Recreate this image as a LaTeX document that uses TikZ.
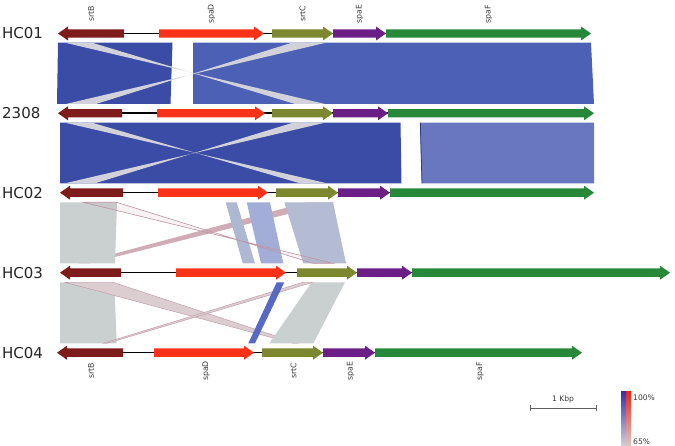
\documentclass[tikz,border=0pt]{standalone}
\usepackage{fontspec}
\setmainfont{DejaVu Sans}
\definecolor{cSrtB}{HTML}{7E1B1B}
\definecolor{cSpaD}{HTML}{FA3218}
\definecolor{cSrtC}{HTML}{7C872F}
\definecolor{cSpaE}{HTML}{6A1E86}
\definecolor{cSpaF}{HTML}{27883A}
\definecolor{bandA}{HTML}{3B4CA6}
\definecolor{bandB}{HTML}{4C61B5}
\definecolor{bandC}{HTML}{6877BF}
\definecolor{wedgec}{HTML}{D2D2DA}
\definecolor{greyblk}{HTML}{C9D0CF}
\definecolor{stripA}{HTML}{AEB8D3}
\definecolor{stripB}{HTML}{A3AED8}
\definecolor{stripC}{HTML}{B4BCD4}
\definecolor{pinkband}{HTML}{D0ADB6}
\definecolor{pinkline}{HTML}{BE95A2}
\definecolor{pinkfill}{HTML}{DCCDD1}
\definecolor{bluestrip}{HTML}{5869C4}
\definecolor{labelgrey}{HTML}{3A3A3A}
\newcommand\generight[4]{%
  \fill[#4] (#1,#3-4.2) -- (#2-10,#3-4.2) -- (#2-10,#3-7) -- (#2,#3) -- (#2-10,#3+7) -- (#2-10,#3+4.2) -- (#1,#3+4.2) -- cycle;}
\newcommand\geneleft[4]{%
  \fill[#4] (#2,#3-4.2) -- (#1+10,#3-4.2) -- (#1+10,#3-7) -- (#1,#3) -- (#1+10,#3+7) -- (#1+10,#3+4.2) -- (#2,#3+4.2) -- cycle;}
\begin{document}
\begin{tikzpicture}[x=1pt,y=-1pt,
  glabel/.style={rotate=90,font=\fontsize{7.8}{7.8}\selectfont,text=labelgrey,inner sep=0pt},
  rowlabel/.style={anchor=west,font=\fontsize{15}{15}\selectfont,text={black!85},inner sep=0pt},
  backbone/.style={line width=1.6pt,black},
  smalltext/.style={font=\fontsize{7.6}{7.6}\selectfont,text=labelgrey,inner sep=0pt}]
\useasboundingbox[fill=white] (0,0) rectangle (675,446);

% ---------- bands HC01-2308 ----------
\fill[bandA] (58,42.7) -- (172.5,42.7) -- (170.5,104) -- (57,104) -- cycle;
\fill[bandB] (193,42.7) -- (591,42.7) -- (594,104) -- (193,104) -- cycle;
\fill[wedgec] (65,42.7) -- (92,42.7) -- (295,104) -- (325,104) -- cycle;
\fill[wedgec] (292,42.7) -- (326,42.7) -- (66,104) -- (96,104) -- cycle;

% ---------- bands 2308-HC02 ----------
\fill[bandA] (60,122.7) -- (400.5,122.7) -- (401.5,183.3) -- (60,183.3) -- cycle;
\fill[bandC] (420,122.7) -- (594,122.7) -- (594,183.3) -- (421.7,183.3) -- cycle;
\draw[bandA!80!black,line width=0.8pt] (420.3,122.7) -- (422,183.3);
\fill[wedgec] (65,122.7) -- (92,122.7) -- (300,183.3) -- (327,183.3) -- cycle;
\fill[wedgec] (293,122.7) -- (325,122.7) -- (65,183.3) -- (95,183.3) -- cycle;

% ---------- bands HC02-HC03 ----------
\fill[pinkband] (306.6,202.3) -- (335,202.3) -- (89.6,263.3) -- (78.8,263.3) -- cycle;
\fill[greyblk] (60,202.3) -- (117,202.3) -- (115,263.3) -- (60,263.3) -- cycle;
\fill[stripA] (225.7,202.3) -- (236.7,202.3) -- (255,263.3) -- (242.7,263.3) -- cycle;
\fill[stripB] (246.7,202.3) -- (270,202.3) -- (283.3,263.3) -- (261,263.3) -- cycle;
\fill[stripC] (284.3,202.3) -- (333,202.3) -- (346,263.3) -- (303.3,263.3) -- cycle;
\filldraw[pinkline,line width=0.6pt,fill opacity=0.12] (83.3,202.3) -- (116.7,202.3) -- (313,263.3) -- (333,263.3) -- cycle;

% ---------- bands HC03-HC04 ----------
\fill[greyblk] (60,282.3) -- (114.3,282.3) -- (116.7,343.3) -- (60,343.3) -- cycle;
\filldraw[fill=pinkfill,draw=pinkline,line width=0.4pt] (65,282.3) -- (113,282.3) -- (298,343.3) -- (293,343.3) -- cycle;
\filldraw[fill=pinkfill,draw=pinkline,line width=0.4pt] (303,282.3) -- (313,282.3) -- (107,343.3) -- (103,343.3) -- cycle;
\fill[bluestrip] (276.7,282.3) -- (284.3,282.3) -- (255,343.3) -- (248.3,343.3) -- cycle;
\fill[greyblk] (311.7,282.3) -- (345,282.3) -- (313.3,343.3) -- (269.3,343.3) -- cycle;

% ---------- row HC01 ----------
\node[rowlabel] (lHC01) at (2,33.5) {HC01};
\draw[backbone] (62,33.5) -- (585,33.5);
\geneleft{58}{124}{33.5}{cSrtB}
\generight{159}{264}{33.5}{cSpaD}
\generight{272}{333}{33.5}{cSrtC}
\generight{333}{386}{33.5}{cSpaE}
\generight{386}{591}{33.5}{cSpaF}
\node[glabel] (t1) at (91,14) {srtB};
\node[glabel] (t2) at (211.5,14) {spaD};
\node[glabel] (t3) at (302.5,14) {srtC};
\node[glabel] (t4) at (359.5,14) {spaE};
\node[glabel] (t5) at (488.5,14) {spaF};

% ---------- row 2308 ----------
\node[rowlabel] (l2308) at (2,113.3) {2308};
\draw[backbone] (62,113.3) -- (588,113.3);
\geneleft{58}{122}{113.3}{cSrtB}
\generight{157}{265}{113.3}{cSpaD}
\generight{272}{333}{113.3}{cSrtC}
\generight{333}{388}{113.3}{cSpaE}
\generight{388}{594}{113.3}{cSpaF}

% ---------- row HC02 ----------
\node[rowlabel] (lHC02) at (2,192.7) {HC02};
\draw[backbone] (64,192.7) -- (588,192.7);
\geneleft{60}{123}{192.7}{cSrtB}
\generight{158}{268}{192.7}{cSpaD}
\generight{276}{338}{192.7}{cSrtC}
\generight{338}{390}{192.7}{cSpaE}
\generight{390}{594}{192.7}{cSpaF}

% ---------- row HC03 ----------
\node[rowlabel] (lHC03) at (2,272.7) {HC03};
\draw[backbone] (64,272.7) -- (664,272.7);
\geneleft{60}{121}{272.7}{cSrtB}
\generight{176}{286}{272.7}{cSpaD}
\generight{297}{357}{272.7}{cSrtC}
\generight{357}{412}{272.7}{cSpaE}
\generight{412}{670}{272.7}{cSpaF}

% ---------- row HC04 ----------
\node[rowlabel] (lHC04) at (2,352.7) {HC04};
\draw[backbone] (61,352.7) -- (576,352.7);
\geneleft{57}{123}{352.7}{cSrtB}
\generight{154}{254}{352.7}{cSpaD}
\generight{262}{323}{352.7}{cSrtC}
\generight{323}{375}{352.7}{cSpaE}
\generight{375}{582}{352.7}{cSpaF}
\node[glabel] (b1) at (91,371) {srtB};
\node[glabel] (b2) at (206,371) {spaD};
\node[glabel] (b3) at (293.5,371) {srtC};
\node[glabel] (b4) at (350.5,371) {spaE};
\node[glabel] (b5) at (480,371) {spaF};

% ---------- scale bar ----------
\coordinate (sbL) at (530,408.3);
\coordinate (sbR) at (596,408.3);
\draw[labelgrey!80,line width=0.7pt] (sbL) -- (sbR);
\draw[labelgrey!80,line width=0.7pt] (sbL) ++(0,-3) -- ++(0,6);
\draw[labelgrey!80,line width=0.7pt] (sbR) ++(0,-3) -- ++(0,6);
\node[smalltext] (sbt) at (563,399.5) {1 Kbp};

% ---------- legend ----------
\shade[top color=blue!60!black!80!white,bottom color={rgb,255:red,218;green,214;blue,220}] (621,392) rectangle (626,448);
\shade[top color={rgb,255:red,232;green,40;blue,28},bottom color={rgb,255:red,218;green,208;blue,208}] (626,392) rectangle (631,448);
\node[smalltext,anchor=west] (lg1) at (633,397.5) {100\%};
\node[smalltext,anchor=south west] (lg2) at (633,445) {65\%};
\end{tikzpicture}
\end{document}
